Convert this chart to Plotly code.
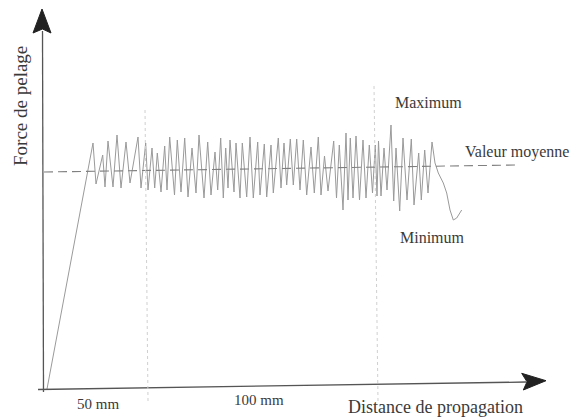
import plotly.graph_objects as go

# ---- data (distance in arbitrary units, force in arbitrary units) ----
ramp_distance = [0]
ramp_force = [0]

peak_distance = [46, 55.7, 61, 70, 79, 91, 98.7, 105, 110.3, 117.7, 122.7, 130.3, 137.7, 145, 152,
                 160.7, 168, 173.7, 178.7, 183, 189, 195.3, 203, 210.7, 217.3, 224, 231.3, 237, 243.3,
                 249.7, 256.3, 264, 271.3, 277.5, 286.7, 292.3, 299, 303.3, 309, 316, 322.3, 328.3,
                 331.5, 337, 344, 349, 356, 364.3, 371.7, 377.7, 385]
peak_force = [246, 234, 248, 254, 247, 252, 246, 241, 236, 243, 252, 249, 251, 241, 254, 247, 237, 251,
              241, 249, 246, 246, 252, 247, 245, 244, 251, 246, 250, 250, 249, 242, 252, 233, 248, 244,
              256, 251, 253, 249, 244, 244, 248, 241, 264, 241, 251, 250, 236, 239, 247]

trough_distance = [49, 58, 66, 74, 83, 94, 101, 107.7, 114, 120, 127.5, 134, 141, 149, 157, 164, 170.7,
                   176.3, 181, 187, 193, 199.7, 206.3, 213, 219.7, 226.3, 234, 239.7, 246.3, 253, 259.7,
                   267.3, 274, 281, 289.5, 296, 301, 306, 312.5, 319, 325.5, 330, 334, 340, 346.7, 352.7,
                   360, 367, 374.3, 381]
trough_force = [205, 202, 202, 201, 206, 201, 199, 201, 197, 199, 194, 197, 192, 196, 191, 194, 199, 191,
                201, 197, 191, 192, 191, 194, 192, 196, 201, 204, 204, 199, 194, 196, 194, 198, 191, 179,
                189, 191, 189, 191, 196, 193, 193, 199, 188, 178, 189, 184, 189, 196]

tail_distance = [388, 391.3, 396.3, 399.7, 403, 406.3, 409.7, 414.7]
tail_force = [226, 216, 206, 196, 179, 169, 171, 179]

mean_distance = [-3, 469]
mean_force = [217, 224]

# build the peeling signal in order: ramp, alternating peaks/troughs, tail
sig_x = list(ramp_distance)
sig_y = list(ramp_force)
for i in range(len(peak_distance)):
    sig_x.append(peak_distance[i]); sig_y.append(peak_force[i])
    if i < len(trough_distance):
        sig_x.append(trough_distance[i]); sig_y.append(trough_force[i])
sig_x += tail_distance
sig_y += tail_force

fig = go.Figure()
fig.add_trace(go.Scatter(x=sig_x, y=sig_y, mode="lines",
                         line=dict(color="#9a9a9a", width=1), hoverinfo="skip"))
fig.add_trace(go.Scatter(x=mean_distance, y=mean_force, mode="lines",
                         line=dict(color="#808080", width=1.1, dash="9px,5px"), hoverinfo="skip"))

txt = "#3a3a3a"
shapes = [
    # y axis
    dict(type="line", xref="x", yref="y", x0=-3.5, y0=-3, x1=-4.5, y1=358,
         line=dict(color="#555", width=1.3)),
    dict(type="path", xref="x", yref="y", path="M -5 380 L -14 356 L -4.5 360 L 4 356 Z",
         fillcolor="#222", line=dict(color="#222", width=1)),
    # x axis
    dict(type="line", xref="x", yref="y", x0=-9, y0=-0.5, x1=479, y1=7,
         line=dict(color="#555", width=1.3)),
    dict(type="path", xref="x", yref="y", path="M 499 8.3 L 474.7 15.7 L 480 7.2 L 476.3 -1 Z",
         fillcolor="#222", line=dict(color="#222", width=1)),
    # faint dotted markers
    dict(type="line", xref="x", yref="y", x0=101, y0=-12, x1=98, y1=281,
         line=dict(color="#d0d0d0", width=1, dash="dot")),
    dict(type="line", xref="x", yref="y", x0=331, y0=-12, x1=327, y1=304,
         line=dict(color="#d0d0d0", width=1, dash="dot")),
]

font_serif = "Times New Roman, Liberation Serif, serif"
annotations = [
    dict(x=-27, y=283, text="Force de pelage", textangle=-90, font=dict(size=19, color=txt, family=font_serif)),
    dict(x=388, y=-18, text="Distance de propagation", font=dict(size=18, color=txt, family=font_serif)),
    dict(x=381, y=287, text="Maximum", font=dict(size=16, color=txt, family=font_serif)),
    dict(x=470, y=237, text="Valeur moyenne", font=dict(size=16, color=txt, family=font_serif)),
    dict(x=385, y=152, text="Minimum", font=dict(size=16, color=txt, family=font_serif)),
    dict(x=51, y=-15, text="50 mm", font=dict(size=15, color=txt, family=font_serif)),
    dict(x=212, y=-11, text="100 mm", font=dict(size=15, color=txt, family=font_serif)),
]
for a in annotations:
    a.update(xref="x", yref="y", showarrow=False, xanchor="center", yanchor="middle")

fig.update_layout(
    width=574, height=419,
    margin=dict(l=0, r=0, t=0, b=0),
    paper_bgcolor="white", plot_bgcolor="white",
    showlegend=False,
    xaxis=dict(range=[-47, 527], visible=False, fixedrange=True),
    yaxis=dict(range=[-30, 389], visible=False, fixedrange=True),
    shapes=shapes, annotations=annotations,
)

fig.write_html("out.html")
